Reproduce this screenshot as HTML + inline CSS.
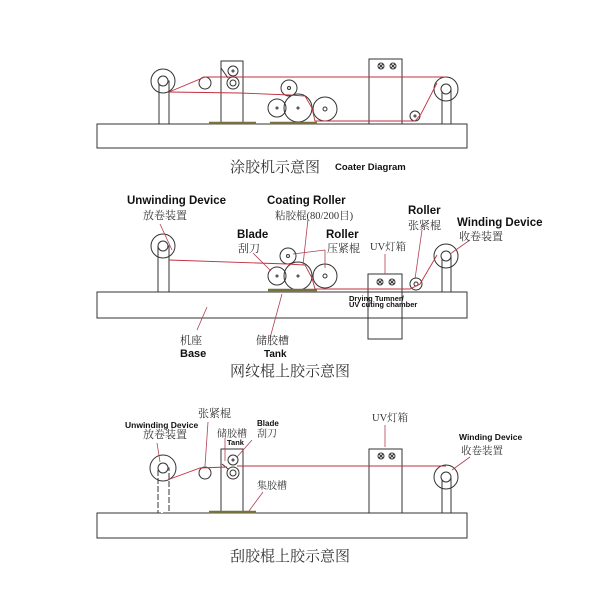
<!DOCTYPE html>
<html><head><meta charset="utf-8"><style>
html,body{margin:0;padding:0;background:#fff}
svg{display:block}
.b{font-family:"Liberation Sans","DejaVu Sans",sans-serif;font-weight:bold;fill:#111}
.c{font-family:"Liberation Serif","Noto Serif CJK SC","Noto Sans CJK SC",serif;fill:#333}
</style></head><body>
<svg width="600" height="600" viewBox="0 0 600 600" xmlns="http://www.w3.org/2000/svg">
<defs>
<g id="x"><line x1="-2" y1="-2" x2="2" y2="2"/><line x1="-2" y1="2" x2="2" y2="-2"/></g>
</defs>
<g fill="none" stroke="#333" stroke-width="1">
<!-- ===== Diagram 1 ===== -->
<rect x="97" y="124" width="370" height="24"/>
<rect x="159" y="81" width="10" height="43" fill="#fff"/>
<circle cx="163" cy="81" r="12"/><circle cx="163" cy="81" r="5" fill="#fff"/>
<rect x="221" y="61" width="22" height="63"/>
<circle cx="233" cy="71" r="5"/><circle cx="233" cy="71" r="1"/>
<circle cx="233" cy="83" r="6"/><circle cx="233" cy="83" r="3"/>
<line x1="221" y1="68" x2="228" y2="78"/>
<circle cx="205" cy="83" r="6"/>
<circle cx="289" cy="88" r="8"/><circle cx="289" cy="88" r="1.5"/>
<circle cx="277" cy="108" r="9"/><circle cx="277" cy="108" r="1"/>
<circle cx="298" cy="108" r="14"/><circle cx="298" cy="108" r="1"/>
<circle cx="325" cy="109" r="12"/><circle cx="325" cy="109" r="2"/>
<rect x="369" y="59" width="33" height="65"/>
<circle cx="381" cy="66" r="3"/><circle cx="393" cy="66" r="3"/>
<use href="#x" x="381" y="66"/><use href="#x" x="393" y="66"/>
<rect x="442" y="89" width="9" height="35" fill="#fff"/>
<circle cx="446" cy="89" r="12"/><circle cx="446" cy="89" r="5" fill="#fff"/>
<circle cx="415" cy="116" r="5"/><circle cx="415" cy="116" r="1"/>
</g>
<g stroke="#777040" stroke-width="2.5" fill="none">
<line x1="209" y1="123" x2="256" y2="123"/><line x1="270" y1="123" x2="317" y2="123"/>
</g>
<g fill="none" stroke="#c0303e" stroke-width="0.9">
<polyline points="169,92 205,77 446,77"/>
<polyline points="169,92 240,93 290,95 305,96 312,108 315,121 415,121 421,114 437,83"/>
</g>
<text x="230" y="172" class="c" font-size="15">涂胶机示意图</text>
<text x="335" y="170" class="b" font-size="9.5" font-weight="normal">Coater Diagram</text>

<!-- ===== Diagram 2 ===== -->
<g fill="none" stroke="#333" stroke-width="1">
<rect x="97" y="292" width="370" height="26"/>
<rect x="158" y="246" width="11" height="46" fill="#fff"/>
<circle cx="163" cy="246" r="12"/><circle cx="163" cy="246" r="5" fill="#fff"/>
<circle cx="288" cy="256" r="8"/><circle cx="288" cy="256" r="1.5"/>
<circle cx="277" cy="276" r="9"/><circle cx="277" cy="276" r="1"/>
<circle cx="298" cy="276" r="14"/><circle cx="298" cy="276" r="1"/>
<circle cx="325" cy="276" r="12"/><circle cx="325" cy="276" r="2"/>
<rect x="368" y="274" width="34" height="65"/>
<circle cx="380" cy="282" r="3"/><circle cx="392" cy="282" r="3"/>
<use href="#x" x="380" y="282"/><use href="#x" x="392" y="282"/>
<circle cx="416" cy="284" r="6"/><circle cx="416" cy="284" r="2"/>
<rect x="442" y="256" width="9" height="36" fill="#fff"/>
<circle cx="446" cy="256" r="12"/><circle cx="446" cy="256" r="5" fill="#fff"/>
</g>
<line x1="268" y1="290" x2="317" y2="290" stroke="#777040" stroke-width="2.5"/>
<g fill="none" stroke="#c0303e" stroke-width="0.9">
<polyline points="169,260 287,264 305,265 312,278 315,289 410,289 420,284 437,255"/>
</g>
<g stroke="#b04050" stroke-width="0.8">
<line x1="160" y1="224" x2="172" y2="250"/>
<line x1="308" y1="219" x2="303" y2="265"/>
<line x1="253" y1="253" x2="271" y2="271"/>
<line x1="325" y1="250" x2="293" y2="254"/><line x1="325" y1="250" x2="325" y2="268"/>
<line x1="422" y1="230" x2="415" y2="279"/>
<line x1="470" y1="240" x2="450" y2="254"/>
<line x1="385" y1="254" x2="385" y2="274"/>
<line x1="197" y1="330" x2="207" y2="307"/>
<line x1="270" y1="338" x2="282" y2="294"/>
</g>
<text x="127" y="204" class="b" font-size="11.5">Unwinding Device</text>
<text x="143" y="219" class="c" font-size="11">放卷装置</text>
<text x="267" y="204" class="b" font-size="11.5">Coating  Roller</text>
<text x="275" y="219" class="c" font-size="10.5">粘胶棍(80/200目)</text>
<text x="237" y="238" class="b" font-size="11.5">Blade</text>
<text x="238" y="252" class="c" font-size="11">刮刀</text>
<text x="326" y="238" class="b" font-size="11.5">Roller</text>
<text x="327" y="252" class="c" font-size="11">压紧棍</text>
<text x="408" y="214" class="b" font-size="11.5">Roller</text>
<text x="408" y="229" class="c" font-size="11">张紧棍</text>
<text x="457" y="226" class="b" font-size="11.5">Winding Device</text>
<text x="459" y="240" class="c" font-size="11">收卷装置</text>
<text x="370" y="250" class="c" font-size="10.5">UV灯箱</text>
<text x="349" y="301" class="b" font-size="7.5">Drying Tumner/</text>
<text x="349" y="307" class="b" font-size="7.5">UV cuting chamber</text>
<text x="180" y="344" class="c" font-size="11">机座</text>
<text x="180" y="357" class="b" font-size="11">Base</text>
<text x="256" y="344" class="c" font-size="11">储胶槽</text>
<text x="264" y="357" class="b" font-size="10">Tank</text>
<text x="230" y="376" class="c" font-size="15">网纹棍上胶示意图</text>

<!-- ===== Diagram 3 ===== -->
<g fill="none" stroke="#333" stroke-width="1">
<rect x="97" y="513" width="370" height="25"/>
<rect x="158" y="468" width="11" height="45" fill="#fff" stroke-dasharray="6,2"/>
<circle cx="163" cy="468" r="13"/><circle cx="163" cy="468" r="5" fill="#fff"/>
<circle cx="205" cy="473" r="6"/>
<rect x="221" y="449" width="22" height="64"/>
<circle cx="233" cy="460" r="5"/><circle cx="233" cy="460" r="1"/>
<circle cx="233" cy="473" r="6"/><circle cx="233" cy="473" r="3"/>
<line x1="222" y1="464" x2="228" y2="469"/>
<rect x="369" y="449" width="33" height="64"/>
<circle cx="381" cy="456" r="3"/><circle cx="392" cy="456" r="3"/>
<use href="#x" x="381" y="456"/><use href="#x" x="392" y="456"/>
<rect x="442" y="477" width="9" height="36" fill="#fff"/>
<circle cx="446" cy="477" r="12"/><circle cx="446" cy="477" r="5" fill="#fff"/>
</g>
<line x1="209" y1="512" x2="256" y2="512" stroke="#777040" stroke-width="2.5"/>
<g fill="none" stroke="#c0303e" stroke-width="0.9">
<line x1="237" y1="466" x2="446" y2="466"/>
<polyline points="170,479 200,468 227,467"/>
</g>
<g stroke="#b04050" stroke-width="0.8">
<line x1="208" y1="422" x2="205" y2="466"/>
<line x1="157" y1="443" x2="160" y2="462"/>
<line x1="225" y1="438" x2="225" y2="461"/>
<line x1="252" y1="440" x2="237" y2="457"/>
<line x1="385" y1="425" x2="385" y2="447"/>
<line x1="263" y1="492" x2="249" y2="511"/>
<line x1="470" y1="457" x2="452" y2="470"/>
</g>
<text x="198" y="417" class="c" font-size="11">张紧棍</text>
<text x="125" y="428" class="b" font-size="8.5">Unwinding Device</text>
<text x="143" y="438" class="c" font-size="11">放卷装置</text>
<text x="217" y="437" class="c" font-size="10">储胶槽</text>
<text x="227" y="445" class="b" font-size="7.5">Tank</text>
<text x="257" y="426" class="b" font-size="8">Blade</text>
<text x="257" y="437" class="c" font-size="10">刮刀</text>
<text x="372" y="421" class="c" font-size="10.5">UV灯箱</text>
<text x="257" y="489" class="c" font-size="10">集胶槽</text>
<text x="459" y="440" class="b" font-size="8.5">Winding Device</text>
<text x="461" y="454" class="c" font-size="10.5">收卷装置</text>
<text x="230" y="561" class="c" font-size="15">刮胶棍上胶示意图</text>
</svg>
</body></html>
